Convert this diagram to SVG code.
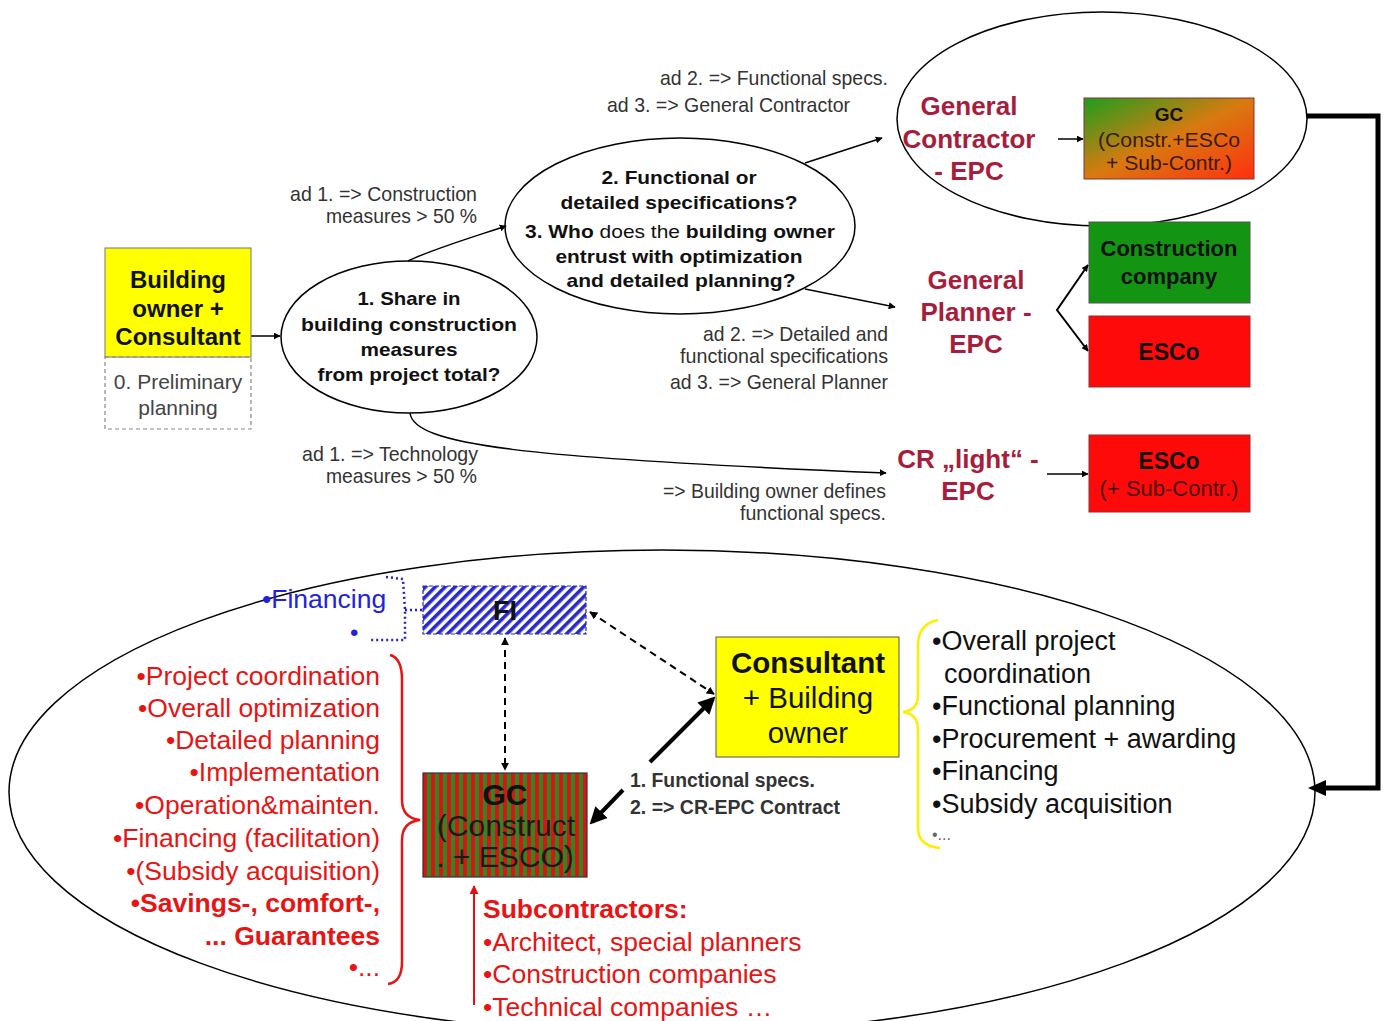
<svg xmlns="http://www.w3.org/2000/svg" width="1385" height="1021" viewBox="0 0 1385 1021">
<defs>
  <marker id="ah" viewBox="0 0 10 10" refX="9" refY="5" markerWidth="7" markerHeight="7" markerUnits="userSpaceOnUse" orient="auto">
    <path d="M0,0 L10,5 L0,10 z" fill="#000"/>
  </marker>
  <marker id="ahs" viewBox="0 0 10 10" refX="9" refY="5" markerWidth="8" markerHeight="8" markerUnits="userSpaceOnUse" orient="auto-start-reverse">
    <path d="M0,0 L10,5 L0,10 z" fill="#000"/>
  </marker>
  <marker id="ahb" viewBox="0 0 10 10" refX="8" refY="5" markerWidth="17" markerHeight="17" markerUnits="userSpaceOnUse" orient="auto">
    <path d="M0,0 L10,5 L0,10 z" fill="#000"/>
  </marker>
  <marker id="ahr" viewBox="0 0 10 10" refX="9" refY="5" markerWidth="9" markerHeight="9" markerUnits="userSpaceOnUse" orient="auto">
    <path d="M0,0 L10,5 L0,10 z" fill="#e01010"/>
  </marker>
  <pattern id="hatch" width="7" height="7" patternUnits="userSpaceOnUse" patternTransform="rotate(45)">
    <rect width="7" height="7" fill="#fff"/>
    <rect width="3.6" height="7" fill="#2a2acc"/>
  </pattern>
  <pattern id="stripes" width="8" height="10" patternUnits="userSpaceOnUse" x="423">
    <rect width="4" height="10" fill="#d81414"/>
    <rect x="4" width="4" height="10" fill="#2a8a22"/>
  </pattern>
  <linearGradient id="gcgrad" x1="0" y1="0" x2="1" y2="1">
    <stop offset="0" stop-color="#1e9e1e"/>
    <stop offset="0.5" stop-color="#d87a10"/>
    <stop offset="1" stop-color="#ff3010"/>
  </linearGradient>
  <style>
    .narrow{font-family:"Liberation Sans Narrow","Liberation Sans",Arial,sans-serif;font-size:21px;fill:#333}
    .q{font-family:"Liberation Sans",Arial,sans-serif;font-size:19px;font-weight:bold;fill:#111;text-anchor:middle}
    .epc{font-family:"Liberation Sans",Arial,sans-serif;font-size:26px;font-weight:bold;fill:#a81c3c;text-anchor:middle}
    .box{font-family:"Liberation Sans",Arial,sans-serif;font-weight:bold;fill:#111;text-anchor:middle}
    .reg{font-family:"Liberation Sans",Arial,sans-serif;text-anchor:middle}
    .red{font-family:"Liberation Sans",Arial,sans-serif;font-size:26.5px;fill:#e81414;text-anchor:end}
    .sub{font-family:"Liberation Sans",Arial,sans-serif;font-size:26.5px;fill:#e81414}
    .blk{font-family:"Liberation Sans",Arial,sans-serif;font-size:27px;fill:#111}
    .thin{fill:none;stroke:#000;stroke-width:1.5}
  </style>
</defs>
<rect width="1385" height="1021" fill="#fff"/>

<!-- big ellipses -->
<g id="top-ellipse"><ellipse cx="1102" cy="119" rx="205" ry="107" class="thin"/></g>
<g id="bottom-ellipse"><ellipse cx="662" cy="792" rx="653" ry="242" class="thin"/></g>

<!-- connectors -->
<g id="connectors">
  <line x1="251" y1="336" x2="280" y2="336" class="thin" marker-end="url(#ah)"/>
  <path d="M408,261 C430,250 470,238 506,226" class="thin" stroke-width="2" marker-end="url(#ah)"/>
  <line x1="805" y1="163" x2="882" y2="138" class="thin" stroke-width="2" marker-end="url(#ah)"/>
  <line x1="805" y1="289" x2="895" y2="307" class="thin" stroke-width="2" marker-end="url(#ah)"/>
  <path d="M410,413 C414,445 520,458 886,473" class="thin" stroke-width="2" marker-end="url(#ah)"/>
  <line x1="1058" y1="139" x2="1083" y2="139" class="thin" stroke-width="2" marker-end="url(#ah)"/>
  <polyline points="1088,265 1057,310 1088,351" fill="none" stroke="#000" stroke-width="2" marker-end="url(#ah)"/>
  <line x1="1085" y1="269" x2="1088" y2="265" class="thin" marker-end="url(#ah)"/>
  <line x1="1047" y1="474" x2="1088" y2="474" class="thin" stroke-width="2" marker-end="url(#ah)"/>
  <polyline points="1307,116 1378,116 1378,788 1318,788" fill="none" stroke="#000" stroke-width="5"/>
  <path d="M1308,788 L1326,780 L1326,796 z" fill="#000"/>
  <line x1="590" y1="612" x2="714" y2="694" stroke="#000" stroke-width="2" stroke-dasharray="7,5" marker-start="url(#ahs)" marker-end="url(#ahs)"/>
  <line x1="505" y1="638" x2="505" y2="770" stroke="#000" stroke-width="2" stroke-dasharray="7,5" marker-start="url(#ahs)" marker-end="url(#ahs)"/>
  <line x1="650" y1="762" x2="713" y2="699" stroke="#000" stroke-width="4" marker-end="url(#ahb)"/>
  <line x1="623" y1="790" x2="592" y2="822" stroke="#000" stroke-width="4" marker-end="url(#ahb)"/>
  <line x1="474" y1="1005" x2="474" y2="886" stroke="#e01010" stroke-width="2" marker-end="url(#ahr)"/>
  <path d="M386,577 L403,579 L405,610 L405,640 L370,640 M405,610 L422,610" fill="none" stroke="#2222cc" stroke-width="2.5" stroke-dasharray="2,3"/>
  <path d="M390,655 Q402,658 402,680 L402,800 Q402,818 420,820 Q402,822 402,840 L402,962 Q402,982 388,984" fill="none" stroke="#e81414" stroke-width="2.5"/>
  <path d="M938,620 Q918,624 918,645 L918,695 Q918,710 903,712 Q918,714 918,730 L918,828 Q918,846 940,848" fill="none" stroke="#ffee00" stroke-width="2.5"/>
</g>

<!-- nodes -->
<g id="building-owner">
  <rect x="105" y="248" width="146" height="109" fill="#ffff00" stroke="#777" stroke-width="1"/>
  <text class="box" font-size="24" x="178" y="288">Building</text>
  <text class="box" font-size="24" x="178" y="317">owner +</text>
  <text class="box" font-size="24" x="178" y="345">Consultant</text>
</g>
<g id="preliminary">
  <rect x="105" y="357" width="146" height="72" fill="none" stroke="#888" stroke-width="1.2" stroke-dasharray="4,3"/>
  <text class="reg" font-size="21" fill="#444" x="178" y="389">0. Preliminary</text>
  <text class="reg" font-size="21" fill="#444" x="178" y="415">planning</text>
</g>
<g id="q1">
  <ellipse cx="409" cy="337" rx="128" ry="76" class="thin"/>
  <text class="q" x="409" y="305" textLength="103" lengthAdjust="spacingAndGlyphs">1. Share in</text>
  <text class="q" x="409" y="331" textLength="216" lengthAdjust="spacingAndGlyphs">building construction</text>
  <text class="q" x="409" y="356" textLength="97" lengthAdjust="spacingAndGlyphs">measures</text>
  <text class="q" x="409" y="381" textLength="183" lengthAdjust="spacingAndGlyphs">from project total?</text>
</g>
<g id="q2">
  <ellipse cx="680" cy="226" rx="175" ry="88" class="thin"/>
  <text class="q" x="679" y="184" textLength="155" lengthAdjust="spacingAndGlyphs">2. Functional or</text>
  <text class="q" x="679" y="209" textLength="237" lengthAdjust="spacingAndGlyphs">detailed specifications?</text>
  <text class="q" x="680" y="238" textLength="310" lengthAdjust="spacingAndGlyphs">3. Who <tspan font-weight="normal">does the</tspan> building owner</text>
  <text class="q" x="679" y="263" textLength="247" lengthAdjust="spacingAndGlyphs">entrust with optimization</text>
  <text class="q" x="681" y="287" textLength="229" lengthAdjust="spacingAndGlyphs">and detailed planning?</text>
</g>

<g id="labels">
  <text class="narrow" x="477" y="201" text-anchor="end" textLength="187" lengthAdjust="spacingAndGlyphs">ad 1. =&gt; Construction</text>
  <text class="narrow" x="477" y="223" text-anchor="end" textLength="151" lengthAdjust="spacingAndGlyphs">measures &gt; 50 %</text>
  <text class="narrow" x="888" y="85" text-anchor="end" textLength="228" lengthAdjust="spacingAndGlyphs">ad 2. =&gt; Functional specs.</text>
  <text class="narrow" x="850" y="112" text-anchor="end" textLength="243" lengthAdjust="spacingAndGlyphs">ad 3. =&gt; General Contractor</text>
  <text class="narrow" x="888" y="341" text-anchor="end" textLength="185" lengthAdjust="spacingAndGlyphs">ad 2. =&gt; Detailed and</text>
  <text class="narrow" x="888" y="363" text-anchor="end" textLength="208" lengthAdjust="spacingAndGlyphs">functional specifications</text>
  <text class="narrow" x="888" y="389" text-anchor="end" textLength="218" lengthAdjust="spacingAndGlyphs">ad 3. =&gt; General Planner</text>
  <text class="narrow" x="478" y="461" text-anchor="end" textLength="176" lengthAdjust="spacingAndGlyphs">ad 1. =&gt; Technology</text>
  <text class="narrow" x="477" y="483" text-anchor="end" textLength="151" lengthAdjust="spacingAndGlyphs">measures &gt; 50 %</text>
  <text class="narrow" x="886" y="498" text-anchor="end" textLength="223" lengthAdjust="spacingAndGlyphs">=&gt; Building owner defines</text>
  <text class="narrow" x="886" y="520" text-anchor="end" textLength="146" lengthAdjust="spacingAndGlyphs">functional specs.</text>
  <text class="narrow" x="630" y="787" font-weight="bold" fill="#111" textLength="185" lengthAdjust="spacingAndGlyphs">1. Functional specs.</text>
  <text class="narrow" x="630" y="814" font-weight="bold" fill="#111" textLength="210" lengthAdjust="spacingAndGlyphs">2. =&gt; CR-EPC Contract</text>
</g>

<g id="gc-epc">
  <text class="epc" x="969" y="115">General</text>
  <text class="epc" x="969" y="148">Contractor</text>
  <text class="epc" x="969" y="180">- EPC</text>
</g>
<g id="gp-epc">
  <text class="epc" x="976" y="289">General</text>
  <text class="epc" x="976" y="321">Planner -</text>
  <text class="epc" x="976" y="353">EPC</text>
</g>
<g id="cr-epc">
  <text class="epc" x="968" y="468">CR „light“ -</text>
  <text class="epc" x="968" y="500">EPC</text>
</g>

<g id="gc-box">
  <rect x="1084" y="98" width="170" height="81" fill="url(#gcgrad)" stroke="#833" stroke-width="1"/>
  <text class="box" font-size="19" x="1169" y="121">GC</text>
  <text class="reg" font-size="20" fill="#3a1a00" x="1169" y="147" textLength="142" lengthAdjust="spacingAndGlyphs">(Constr.+ESCo</text>
  <text class="reg" font-size="20" fill="#3a1a00" x="1169" y="170" textLength="126" lengthAdjust="spacingAndGlyphs">+ Sub-Contr.)</text>
</g>
<g id="construction-company">
  <rect x="1089" y="222" width="161" height="81" fill="#139413" stroke="#555" stroke-width="1"/>
  <text class="box" font-size="22" x="1169" y="256">Construction</text>
  <text class="box" font-size="22" x="1169" y="284">company</text>
</g>
<g id="esco">
  <rect x="1089" y="316" width="161" height="71" fill="#ff0a0a" stroke="#833" stroke-width="1"/>
  <text class="box" font-size="23" x="1169" y="360">ESCo</text>
</g>
<g id="esco-sub">
  <rect x="1089" y="435" width="161" height="77" fill="#ff0a0a" stroke="#833" stroke-width="1"/>
  <text class="box" font-size="23" x="1169" y="469">ESCo</text>
  <text class="reg" font-size="22" fill="#4a0a0a" x="1169" y="496">(+ Sub-Contr.)</text>
</g>

<g id="financing">
  <text font-family="Liberation Sans, Arial, sans-serif" font-size="26.5" fill="#2222dd" x="262" y="608">•Financing</text>
  <text font-family="Liberation Sans, Arial, sans-serif" font-size="24" fill="#2222dd" x="350" y="641">•</text>
</g>
<g id="fi">
  <rect x="423" y="586" width="163" height="48" fill="url(#hatch)" stroke="#2a2acc" stroke-width="1.2" stroke-dasharray="4,2"/>
  <text class="box" font-size="27" x="505" y="620">FI</text>
</g>
<g id="gc-construct">
  <rect x="423" y="773" width="164" height="104" fill="url(#stripes)" stroke="#333" stroke-width="1.2"/>
  <text class="box" font-size="30" fill="#1a1a1a" x="505" y="805">GC</text>
  <text class="reg" font-size="30" fill="#1a1a1a" x="506" y="836">(Construct</text>
  <text class="reg" font-size="30" fill="#1a1a1a" x="505" y="867">. + ESCO)</text>
</g>
<g id="consultant">
  <rect x="716" y="637" width="183" height="120" fill="#ffff00" stroke="#555" stroke-width="1"/>
  <text class="box" font-size="29.5" x="808" y="673">Consultant</text>
  <text class="reg" font-size="29.5" fill="#111" x="808" y="708">+ Building</text>
  <text class="reg" font-size="29.5" fill="#111" x="808" y="743">owner</text>
</g>

<g id="gc-tasks">
  <text class="red" x="380" y="685">•Project coordination</text>
  <text class="red" x="380" y="717">•Overall optimization</text>
  <text class="red" x="380" y="749">•Detailed planning</text>
  <text class="red" x="380" y="781">•Implementation</text>
  <text class="red" x="380" y="814">•Operation&amp;mainten.</text>
  <text class="red" x="380" y="847">•Financing (facilitation)</text>
  <text class="red" x="380" y="880">•(Subsidy acquisition)</text>
  <text class="red" x="380" y="912" font-weight="bold">•Savings-, comfort-,</text>
  <text class="red" x="380" y="945" font-weight="bold">... Guarantees</text>
  <text class="red" x="380" y="976" font-size="20">•...</text>
</g>
<g id="subcontractors">
  <text class="sub" x="483" y="918" font-weight="bold">Subcontractors:</text>
  <text class="sub" x="483" y="951">•Architect, special planners</text>
  <text class="sub" x="483" y="983">•Construction companies</text>
  <text class="sub" x="483" y="1016">•Technical companies …</text>
</g>
<g id="consultant-tasks">
  <text class="blk" x="932" y="650">•Overall project</text>
  <text class="blk" x="944" y="683">coordination</text>
  <text class="blk" x="932" y="715">•Functional planning</text>
  <text class="blk" x="932" y="748">•Procurement + awarding</text>
  <text class="blk" x="932" y="780">•Financing</text>
  <text class="blk" x="932" y="813">•Subsidy acquisition</text>
  <text font-family="Liberation Sans, Arial, sans-serif" font-size="16" fill="#666" x="932" y="840">•...</text>
</g>
</svg>
